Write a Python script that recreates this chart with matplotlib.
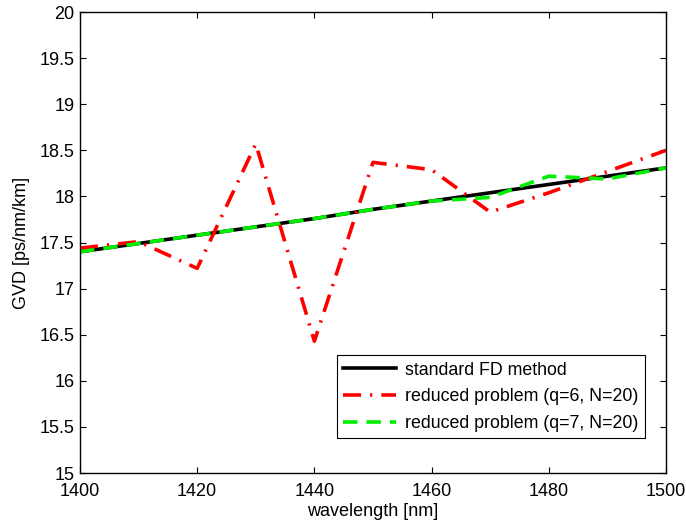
import matplotlib
matplotlib.use('Agg')
import matplotlib.pyplot as plt
import numpy as np

plt.rcParams['font.family'] = ['Liberation Sans', 'DejaVu Sans']

# standard FD method (reference solution)
wl_fd = [1400, 1410, 1420, 1430, 1440, 1450, 1460, 1470, 1480, 1490, 1500]
gvd_fd = [17.40, 17.49, 17.58, 17.67, 17.76, 17.86, 17.95, 18.04, 18.13, 18.22, 18.31]

# reduced problem q=6
wl_q6 = [1400, 1410, 1420, 1430, 1440, 1450, 1460, 1470, 1480, 1490, 1500]
gvd_q6 = [17.44, 17.51, 17.22, 18.57, 16.43, 18.37, 18.29, 17.83, 18.04, 18.27, 18.50]

# reduced problem q=7
wl_q7 = [1400, 1410, 1420, 1430, 1440, 1450, 1460, 1470, 1480, 1490, 1500]
gvd_q7 = [17.40, 17.49, 17.58, 17.67, 17.76, 17.86, 17.95, 17.99, 18.22, 18.19, 18.31]

fig = plt.figure(figsize=(6.86, 5.25), dpi=100)
ax = fig.add_axes([0.1166, 0.099, 0.8542, 0.878])

ax.plot(wl_fd, gvd_fd, color='black', lw=2.6, label='standard FD method')
ax.plot(wl_q6, gvd_q6, color='red', lw=2.6, linestyle=(0, (5, 2.5, 0.6, 2.5)),
        label='reduced problem (q=6, N=20)')
ax.plot(wl_q7, gvd_q7, color='#00ee00', lw=2.6, linestyle=(0, (4, 2.5)),
        label='reduced problem (q=7, N=20)')

ax.set_xlim(1400, 1500)
ax.set_ylim(15, 20)
ax.set_xticks(np.arange(1400, 1501, 20))
ax.set_yticks(np.arange(15, 20.01, 0.5))
ax.set_yticklabels(['15', '15.5', '16', '16.5', '17', '17.5', '18', '18.5', '19', '19.5', '20'])
ax.tick_params(direction='in', top=True, right=True, labelsize=13, length=4.5, width=0.8)
ax.tick_params(axis='y', pad=4)
ax.tick_params(axis='x', pad=7)
for s in ax.spines.values():
    s.set_linewidth(1.0)

ax.set_xlabel('wavelength [nm]', fontsize=13, labelpad=2.5)
ax.set_ylabel('GVD [ps/nm/km]', fontsize=13, labelpad=7)

leg = ax.legend(loc='lower right', bbox_to_anchor=(0.964, 0.075), borderaxespad=0,
                fontsize=12.8, frameon=True, fancybox=False, edgecolor='black',
                framealpha=1, handlelength=3.0, borderpad=0.35, labelspacing=0.55,
                handletextpad=0.5)
leg.get_frame().set_linewidth(0.8)

fig.savefig('out.png', dpi=100)
